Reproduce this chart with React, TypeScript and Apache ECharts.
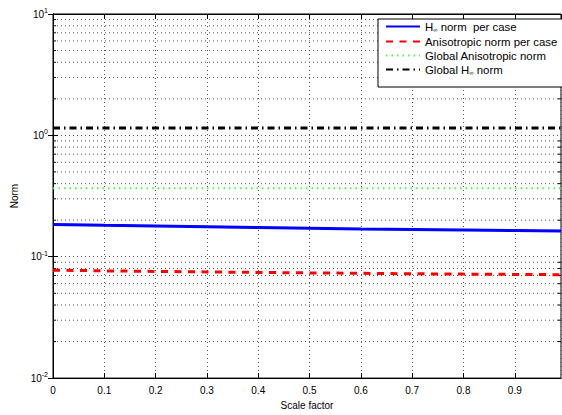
import React, { useEffect, useRef } from "react";
import * as echarts from "echarts";

const xValues = [0, 0.1, 0.2, 0.3, 0.4, 0.5, 0.6, 0.7, 0.8, 0.9, 0.99];
const hinfPerCase = [0.1845, 0.1815, 0.179, 0.1765, 0.174, 0.1715, 0.169, 0.1675, 0.166, 0.1645, 0.163];
const anisoPerCase = [0.0775, 0.0765, 0.0757, 0.075, 0.0742, 0.0736, 0.073, 0.0724, 0.0719, 0.0715, 0.0711];
const globalAniso = [0.367, 0.367, 0.367, 0.367, 0.367, 0.367, 0.367, 0.367, 0.367, 0.367, 0.367];
const globalHinf = [1.15, 1.15, 1.15, 1.15, 1.15, 1.15, 1.15, 1.15, 1.15, 1.15, 1.15];

const seriesNames = [
  "H∞ norm  per case",
  "Anisotropic norm per case",
  "Global Anisotropic norm",
  "Global H∞ norm",
];
const legendRich = [
  "{n|H}{s|∞}{n| norm  per case}",
  "{n|Anisotropic norm per case}",
  "{n|Global Anisotropic norm}",
  "{n|Global H}{s|∞}{n| norm}",
];
const yMinorGrid = [
  0.02, 0.03, 0.04, 0.05, 0.06, 0.07, 0.08, 0.09,
  0.2, 0.3, 0.4, 0.5, 0.6, 0.7, 0.8, 0.9,
  2, 3, 4, 5, 6, 7, 8, 9,
];

const FONT = "Liberation Sans, Arial, Helvetica, sans-serif";

function pairs(ys: number[]) {
  return xValues.map((x, i) => [x, ys[i]]);
}

export default function App() {
  const ref = useRef<HTMLDivElement>(null);
  useEffect(() => {
    const chart = echarts.init(ref.current!, null, { renderer: "svg" });
    const dotted = { color: "#555", width: 1, type: [1, 3] as any };
    const expLabel = {
      fontFamily: FONT,
      margin: 5,
      formatter: (v: number) => {
        const e = Math.round(Math.log10(v));
        return `{b|10}{s|${e}}`;
      },
      rich: {
        b: { fontSize: 10, fontFamily: FONT, color: "#000", lineHeight: 14 },
        s: { fontSize: 7, fontFamily: FONT, color: "#000", lineHeight: 7, verticalAlign: "top" },
      },
    };
    chart.setOption({
      animation: false,
      backgroundColor: "#fff",
      textStyle: { fontFamily: FONT },
      grid: {
        left: 53,
        right: 1,
        top: 14,
        bottom: 28,
        show: true,
        borderColor: "#000",
        borderWidth: 1,
        backgroundColor: "transparent",
      },
      legend: {
        data: seriesNames,
        orient: "vertical",
        left: 378,
        top: 19,
        backgroundColor: "#fff",
        borderColor: "#000",
        borderWidth: 1,
        borderRadius: 0,
        padding: [2, 16, 11, 7],
        itemGap: 3,
        itemWidth: 34,
        itemHeight: 12,
        itemStyle: { opacity: 0 },
        formatter: (name: string) => legendRich[seriesNames.indexOf(name)],
        textStyle: {
          fontFamily: FONT,
          fontSize: 11.4,
          color: "#000",
          rich: {
            n: { fontSize: 11.4, fontFamily: FONT, color: "#000", lineHeight: 13 },
            s: { fontSize: 6, fontFamily: FONT, color: "#000", lineHeight: 6, verticalAlign: "bottom" },
          },
        },
      },
      xAxis: [
        {
          type: "value",
          min: 0,
          max: 0.99,
          interval: 0.1,
          name: "Scale factor",
          nameLocation: "middle",
          nameGap: 21,
          nameTextStyle: { fontSize: 10, fontFamily: FONT, color: "#000" },
          axisLine: { show: true, lineStyle: { color: "#000", width: 1 } },
          axisTick: { show: true, inside: true, length: 5, lineStyle: { color: "#000" } },
          axisLabel: {
            fontSize: 10,
            color: "#000",
            margin: 7,
            showMaxLabel: false,
            formatter: (v: number) => (v === 0 ? "0" : String(+v.toFixed(1))),
          },
          splitLine: { show: true, lineStyle: dotted },
        },
        {
          type: "value",
          position: "top",
          min: 0,
          max: 0.99,
          interval: 0.1,
          axisLine: { show: true, lineStyle: { color: "#000", width: 1 } },
          axisTick: { show: true, inside: true, length: 5, lineStyle: { color: "#000" } },
          axisLabel: { show: false },
          splitLine: { show: false },
        },
      ],
      yAxis: [
        {
          type: "log",
          logBase: 10,
          min: 0.01,
          max: 10,
          name: "Norm",
          nameLocation: "middle",
          nameGap: 26,
          nameTextStyle: { fontSize: 10, fontFamily: FONT, color: "#000" },
          axisLine: { show: true, lineStyle: { color: "#000", width: 1 } },
          axisTick: { show: true, inside: true, length: 5, lineStyle: { color: "#000" } },
          axisLabel: expLabel,
          splitLine: { show: true, lineStyle: dotted },
        },
        {
          type: "log",
          logBase: 10,
          min: 0.01,
          max: 10,
          position: "right",
          axisLine: { show: true, lineStyle: { color: "#000", width: 1 } },
          axisTick: { show: true, inside: true, length: 5, lineStyle: { color: "#000" } },
          axisLabel: { show: false },
          splitLine: { show: false },
        },
      ],
      series: [
        {
          type: "custom",
          name: "minorGrid",
          silent: true,
          z: 1,
          coordinateSystem: "cartesian2d",
          encode: { x: 0, y: 1 },
          data: yMinorGrid.map((v) => [0, v]),
          renderItem: (params: any, api: any) => {
            const p = api.coord([0, api.value(1)]);
            const cs = params.coordSys;
            const y = p[1];
            return {
              type: "group",
              children: [
                {
                  type: "line",
                  shape: { x1: cs.x, y1: y, x2: cs.x + cs.width, y2: y },
                  style: { stroke: "#555", lineWidth: 1, lineDash: [1, 3] },
                },
                {
                  type: "line",
                  shape: { x1: cs.x, y1: y, x2: cs.x + 3, y2: y },
                  style: { stroke: "#000", lineWidth: 1 },
                },
                {
                  type: "line",
                  shape: { x1: cs.x + cs.width - 3, y1: y, x2: cs.x + cs.width, y2: y },
                  style: { stroke: "#000", lineWidth: 1 },
                },
              ],
            };
          },
        },
        {
          type: "line",
          name: seriesNames[0],
          data: pairs(hinfPerCase),
          showSymbol: false,
          symbol: "none",
          z: 5,
          lineStyle: { color: "#0000ff", width: 3, type: "solid" },
          itemStyle: { color: "#0000ff" },
        },
        {
          type: "line",
          name: seriesNames[1],
          data: pairs(anisoPerCase),
          showSymbol: false,
          symbol: "none",
          z: 5,
          lineStyle: { color: "#ff0000", width: 3, type: [7, 6.5] },
          itemStyle: { color: "#ff0000" },
        },
        {
          type: "line",
          name: seriesNames[2],
          data: pairs(globalAniso),
          showSymbol: false,
          symbol: "none",
          z: 5,
          lineStyle: { color: "#44ff44", width: 2, type: [1.5, 4] },
          itemStyle: { color: "#44ff44" },
        },
        {
          type: "line",
          name: seriesNames[3],
          data: pairs(globalHinf),
          showSymbol: false,
          symbol: "none",
          z: 5,
          lineStyle: { color: "#000000", width: 3, type: [7, 4, 1.5, 4] },
          itemStyle: { color: "#000000" },
        },
      ],
    });
    return () => chart.dispose();
  }, []);
  return (
    <div
      ref={ref}
      style={{ position: "fixed", left: 0, top: 0, width: 562, height: 415, background: "#fff" }}
    />
  );
}
